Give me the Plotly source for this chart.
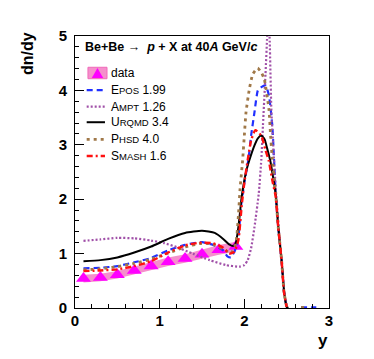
import plotly.graph_objects as go

# measured data (triangles) with systematic band
data_x = [0.1, 0.3, 0.5, 0.7, 0.9, 1.1, 1.3, 1.5, 1.7, 1.9]
data_y = [0.54, 0.56, 0.61, 0.69, 0.77, 0.85, 0.91, 0.99, 1.07, 1.13]
data_sys = [0.07, 0.07, 0.07, 0.075, 0.075, 0.08, 0.08, 0.085, 0.09, 0.09]

# model curves
epos_x = [0.1, 0.3, 0.5, 0.7, 0.9, 1.1, 1.3, 1.5, 1.63, 1.75, 1.8, 1.84, 1.89, 1.93, 1.96, 2.0, 2.05,
          2.08, 2.12, 2.16, 2.2, 2.25, 2.29, 2.33, 2.35, 2.37, 2.4, 2.44, 2.47, 2.5, None, 2.67, 2.85]
epos_y = [0.73, 0.74, 0.77, 0.84, 0.92, 1.06, 1.16, 1.21, 1.16, 1.06, 0.95, 0.93, 1.06, 1.31, 1.86, 2.3, 2.75,
          3.17, 3.6, 4.0, 4.06, 4.09, 3.91, 3.36, 2.75, 2.1, 1.49, 0.88, 0.27, 0.02, None, 0.01, 0.01]

ampt_x = [0.1, 0.3, 0.5, 0.7, 0.9, 1.06, 1.2, 1.39, 1.59, 1.78, 1.94, 2.0, 2.04, 2.08, 2.12, 2.17, 2.2,
          2.22, 2.25, 2.27, 2.285, 2.3, 2.32, 2.37, 2.43, 2.47, 2.5]
ampt_y = [1.235, 1.26, 1.29, 1.28, 1.24, 1.19, 1.12, 1.0, 0.88, 0.79, 0.76, 0.79, 0.88, 1.1, 1.49, 2.1, 2.72,
          3.36, 4.3, 5.0, 5.5, 4.9, 3.6, 2.23, 1.0, 0.3, 0.03]

urqmd_x = [0.1, 0.3, 0.5, 0.7, 0.9, 1.1, 1.3, 1.5, 1.65, 1.75, 1.82, 1.87, 1.9, 1.93, 1.97, 2.02, 2.06,
           2.12, 2.16, 2.2, 2.24, 2.27, 2.31, 2.34, 2.37, 2.4, 2.44, 2.47, 2.5, 2.52]
urqmd_y = [0.86, 0.88, 0.93, 1.02, 1.13, 1.27, 1.38, 1.42, 1.38, 1.27, 1.17, 1.14, 1.2, 1.49, 2.05, 2.5, 2.72,
           2.99, 3.12, 3.17, 3.1, 2.93, 2.68, 2.4, 2.1, 1.5, 0.88, 0.3, 0.02, 0.0]

phsd_x = [0.1, 0.3, 0.5, 0.7, 0.9, 1.1, 1.3, 1.5, 1.63, 1.78, 1.84, 1.9, 1.93, 1.95, 1.98, 2.0, 2.02,
          2.06, 2.1, 2.157, 2.2, 2.235, 2.29, 2.31, 2.33, 2.37, 2.4, 2.44, 2.47, 2.5, None, 2.67, 2.72]
phsd_y = [0.7, 0.72, 0.76, 0.82, 0.9, 1.01, 1.12, 1.19, 1.17, 1.06, 1.0, 1.19, 1.7, 2.2, 2.72, 3.17, 3.6,
          4.03, 4.3, 4.41, 4.33, 4.21, 3.66, 3.17, 2.75, 2.1, 1.49, 0.88, 0.27, 0.02, None, 0.01, 0.01]

smash_x = [0.1, 0.3, 0.5, 0.7, 0.9, 1.1, 1.3, 1.47, 1.63, 1.75, 1.82, 1.88, 1.93, 1.97, 2.0, 2.04, 2.08,
           2.13, 2.2, 2.25, 2.29, 2.33, 2.37, 2.4, 2.44, 2.47, 2.5]
smash_y = [0.68, 0.69, 0.71, 0.77, 0.86, 1.02, 1.15, 1.2, 1.19, 1.11, 1.0, 1.03, 1.25, 1.9, 2.3, 2.72, 3.08,
           3.27, 3.17, 2.9, 2.7, 2.35, 2.05, 1.49, 0.88, 0.27, 0.02]

PINK = "#f58fcc"
FONT = "Liberation Sans"


def sc(big, small):
    return big + "<span style='font-size:9.5px'>" + small + "</span>"


fig = go.Figure()

# systematic band
band_x = data_x + data_x[::-1]
band_y = [v + e for v, e in zip(data_y, data_sys)] + [v - e for v, e in zip(data_y, data_sys)][::-1]
fig.add_trace(go.Scatter(x=band_x, y=band_y, fill="toself", fillcolor=PINK,
                         line=dict(width=0), mode="lines", showlegend=False, hoverinfo="skip"))
fig.add_trace(go.Scatter(x=data_x, y=data_y, mode="markers", name="data", showlegend=False,
                         marker=dict(symbol="triangle-up", size=13, color="#ff00ff")))

models = [
    (epos_x, epos_y, sc("E", "POS") + " 1.99", "#2030ff", "6px,4px", 2.2),
    (ampt_x, ampt_y, sc("A", "MPT") + " 1.26", "#a050a8", "2px,2px", 2.2),
    (urqmd_x, urqmd_y, sc("U", "RQMD") + " 3.4", "black", "solid", 2),
    (phsd_x, phsd_y, sc("P", "HSD") + " 4.0", "#a07848", "3px,4px", 2.8),
    (smash_x, smash_y, sc("S", "MASH") + " 1.6", "#ff1010", "6px,3px,2px,3px", 2.4),
]
for mx, my, name, color, dash, w in models:
    fig.add_trace(go.Scatter(x=mx, y=my, mode="lines", name=name, showlegend=False,
                             line=dict(color=color, dash=dash, width=w, shape="spline", smoothing=0.5)))

# hand-placed legend (ROOT style)
row_y = [0.865, 0.801, 0.740, 0.683, 0.620, 0.559]
sym_x0, sym_x1, text_x = 0.046, 0.118, 0.134
shapes = [
    dict(type="rect", xref="paper", yref="paper", x0=0.051, x1=0.126, y0=row_y[0] - 0.022,
         y1=row_y[0] + 0.020, fillcolor=PINK, line=dict(color="#f06ab8", width=1)),
    dict(type="path", xref="paper", yref="paper", fillcolor="#ff00ff", line=dict(width=0),
         path="M 0.066,%.3f L 0.111,%.3f L 0.0885,%.3f Z" % (row_y[0] - 0.019, row_y[0] - 0.019,
                                                          row_y[0] + 0.017)),
]
legend_text = ["data"] + [m[2] for m in models]
annotations = [
    dict(text=t, xref="paper", yref="paper", x=text_x, y=yy, xanchor="left", yanchor="middle",
         showarrow=False, font=dict(family=FONT, size=12, color="black"))
    for t, yy in zip(legend_text, row_y)
]
for (mx, my, name, color, dash, w), yy in zip(models, row_y[1:]):
    shapes.append(dict(type="line", xref="paper", yref="paper", x0=sym_x0, x1=sym_x1, y0=yy, y1=yy,
                       line=dict(color=color, dash=dash, width=w)))

annotations += [
    dict(text="<b>Be+Be \u2192  <i>p</i> + X at 40<i>A</i> GeV/<i>c</i></b>", xref="paper", yref="paper",
         x=0.03, y=0.958, xanchor="left", yanchor="middle", showarrow=False,
         font=dict(family=FONT, size=12.5, color="black")),
    dict(text="<b>dn/dy</b>", xref="paper", yref="paper", x=-0.187, y=1.022, textangle=-90,
         xanchor="center", yanchor="top", showarrow=False,
         font=dict(family=FONT, size=16, color="black")),
    dict(text="<b>y</b>", xref="paper", yref="paper", x=0.976, y=-0.121, xanchor="center",
         yanchor="middle", showarrow=False,
         font=dict(family=FONT, size=17, color="black")),
]

axis_common = dict(showline=True, mirror=True, linecolor="black", linewidth=1, ticks="inside",
                   ticklen=9, tickcolor="black", dtick=1, showgrid=False, zeroline=False,
                   tickfont=dict(family=FONT, size=15, color="black", weight="bold"),
                   minor=dict(ticks="inside", ticklen=4, dtick=0.2, tickcolor="black", showgrid=False))

fig.update_xaxes(range=[0, 3], ticklabelstandoff=-1, **axis_common)
fig.update_yaxes(range=[0, 5], ticklabelstandoff=4, **axis_common)

# page body adds an 8px offset, so the plot box is placed at 67..321 x 28..300
fig.update_layout(
    width=374, height=359,
    margin=dict(l=67, r=53, t=28, b=59),
    paper_bgcolor="white", plot_bgcolor="white",
    font=dict(family=FONT, color="black"),
    showlegend=False,
    shapes=shapes,
    annotations=annotations,
)

fig.write_html("out.html")
